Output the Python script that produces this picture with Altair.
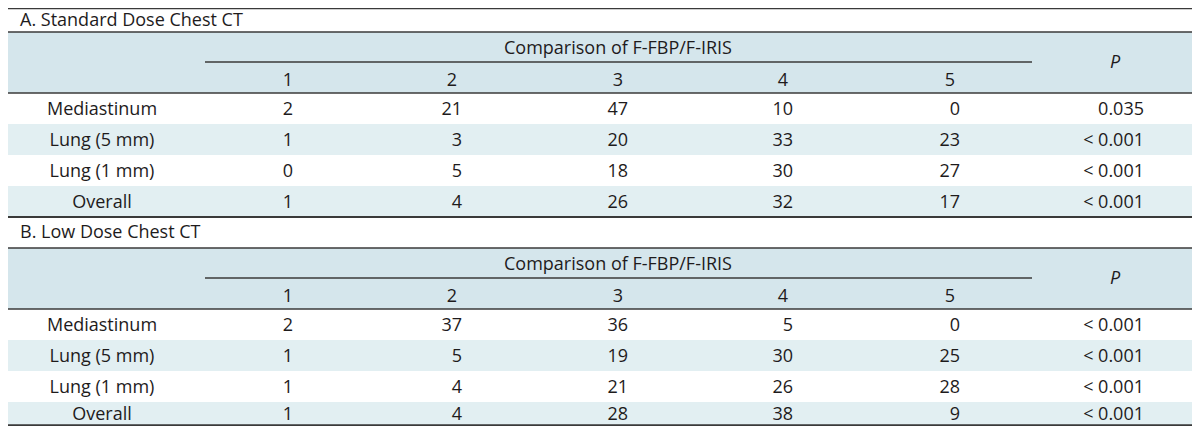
import altair as alt
import pandas as pd

# ---------------- data ----------------
section_titles = ["A. Standard Dose Chest CT", "B. Low Dose Chest CT"]
group_header = "Comparison of F-FBP/F-IRIS"
score_labels = ["1", "2", "3", "4", "5"]
p_header = "P"
row_labels = ["Mediastinum", "Lung (5 mm)", "Lung (1 mm)", "Overall"]

std_mediastinum = [2, 21, 47, 10, 0]
std_lung5 = [1, 3, 20, 33, 23]
std_lung1 = [0, 5, 18, 30, 27]
std_overall = [1, 4, 26, 32, 17]
std_p = ["0.035", "< 0.001", "< 0.001", "< 0.001"]

low_mediastinum = [2, 37, 36, 5, 0]
low_lung5 = [1, 5, 19, 30, 25]
low_lung1 = [1, 4, 21, 26, 28]
low_overall = [1, 4, 28, 38, 9]
low_p = ["< 0.001", "< 0.001", "< 0.001", "< 0.001"]

sections = [
    (section_titles[0], [std_mediastinum, std_lung5, std_lung1, std_overall], std_p),
    (section_titles[1], [low_mediastinum, low_lung5, low_lung1, low_overall], low_p),
]

# ---------------- layout (reference pixel space) ----------------
W, H, M = 1200, 434, 8
COL_X = [288, 452, 618, 783, 950]
LABEL_X = 102
TITLE_X = 20
P_HEAD_X = 1115
P_RIGHT_X = 1144
SUB_X0, SUB_X1 = 205, 1032
SEC_OFF = [0, 216]
TITLE_Y, HEAD_TOP, GROUP_Y, SUB_Y, SCORE_Y, P_Y, HEAD_BOT, ROW_H = 16, 32, 47.5, 62, 79.5, 62, 93, 31

HEAD_FILL = "#d5e6ec"
ROW_FILL = "#e2eff2"
LINE = "#3a3a3a"
TXT = "#1e1b1c"
FONT = "Open Sans"
FS = 18

bands, rules = [], []
t_left, t_center, t_right, t_ital = [], [], [], []

for si, (title, rows, pvals) in enumerate(sections):
    o = SEC_OFF[si]
    t_left.append({"x": TITLE_X, "y": o + TITLE_Y, "text": title})
    bands.append({"x": 0, "x2": W, "y": o + HEAD_TOP, "y2": o + HEAD_BOT, "fill": "head"})
    rules.append({"x": 0, "x2": W, "y": o + HEAD_TOP, "w": "n"})
    rules.append({"x": 0, "x2": W, "y": o + HEAD_BOT, "w": "n"})
    rules.append({"x": SUB_X0, "x2": SUB_X1, "y": o + SUB_Y, "w": "n"})
    bottom = o + HEAD_BOT + 4 * ROW_H
    rules.append({"x": 0, "x2": W, "y": bottom, "w": "b"})
    t_center.append({"x": COL_X[2], "y": o + GROUP_Y, "text": group_header})
    for c, lab in enumerate(score_labels):
        t_center.append({"x": COL_X[c], "y": o + SCORE_Y, "text": lab})
    t_ital.append({"x": P_HEAD_X, "y": o + P_Y, "text": p_header})
    for r, (lab, vals) in enumerate(zip(row_labels, rows)):
        y0 = o + HEAD_BOT + r * ROW_H
        yc = y0 + ROW_H / 2
        if r % 2 == 1:
            bands.append({"x": 0, "x2": W, "y": y0, "y2": y0 + ROW_H, "fill": "row"})
        t_center.append({"x": LABEL_X, "y": yc, "text": lab})
        for c, v in enumerate(vals):
            col_vals = [rw[c] for rw in rows]
            if max(col_vals) >= 10:
                t_right.append({"x": COL_X[c] + 10, "y": yc, "text": str(v)})
            else:
                t_center.append({"x": COL_X[c], "y": yc, "text": str(v)})
        t_right.append({"x": P_RIGHT_X, "y": yc, "text": pvals[r]})

rules.append({"x": 0, "x2": W, "y": 0.75, "w": "n"})

xs = alt.Scale(domain=[0, W], range=[-M, W - M], zero=False, nice=False)
ys = alt.Scale(domain=[0, 32, 402, H], range=[0, 24, 394, H - 2 * M], zero=False, nice=False)

X = alt.X("x:Q", scale=xs, axis=None)
Y = alt.Y("y:Q", scale=ys, axis=None)

band_layer = alt.Chart(pd.DataFrame(bands)).mark_rect(strokeWidth=0).encode(
    x=X, x2="x2:Q", y=Y, y2="y2:Q",
    color=alt.Color("fill:N", scale=alt.Scale(domain=["head", "row"], range=[HEAD_FILL, ROW_FILL]), legend=None),
)

rule_layer = alt.Chart(pd.DataFrame(rules)).mark_rule(color=LINE).encode(
    x=X, x2="x2:Q", y=Y,
    strokeWidth=alt.StrokeWidth("w:N", scale=alt.Scale(domain=["n", "b"], range=[1.5, 2.2]), legend=None),
)

def text_layer(rows_, align, style="normal"):
    return alt.Chart(pd.DataFrame(rows_)).mark_text(
        align=align, baseline="middle", font=FONT, fontSize=FS, fontWeight=500,
        color=TXT, dy=1, fontStyle=style
    ).encode(x=X, y=Y, text="text:N")

chart = alt.layer(
    band_layer,
    rule_layer,
    text_layer(t_left, "left"),
    text_layer(t_center, "center"),
    text_layer(t_right, "right"),
    text_layer(t_ital, "center", "italic"),
).properties(
    width=W - 2 * M, height=H - 2 * M,
    autosize=alt.AutoSizeParams(type="none"), padding=0,
).configure_view(stroke=None)

chart.save("out.html", embed_options={"renderer": "svg", "actions": False})
